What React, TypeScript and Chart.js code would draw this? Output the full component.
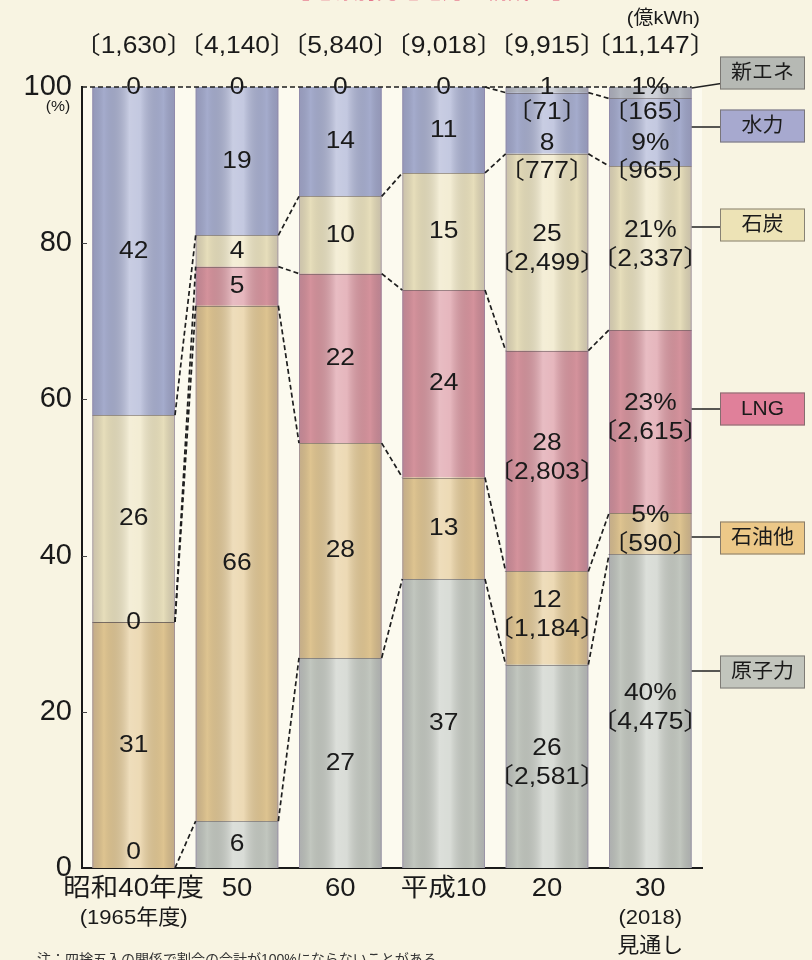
import React, { useEffect, useRef } from 'react';
import { Chart, registerables } from 'chart.js';

Chart.register(...registerables);

// Fiscal years on the category axis
const categories = ['昭和40年度', '50', '60', '平成10', '20', '30'];
const categorySub = ['(1965年度)', '', '', '', '', '(2018)'];
const categoryNote = ['', '', '', '', '', '見通し'];

// Total generation per year (億kWh)
const totalKwh = [1630, 4140, 5840, 9018, 9915, 11147];

// Share of generation by source (%), bottom of the stack first
const nuclear = [0, 6, 26.9, 37, 26.03, 40.15];
const oil = [31.49, 66, 27.5, 13, 11.94, 5.29];
const lng = [0, 5, 21.7, 24, 28.27, 23.46];
const coal = [26.49, 4, 9.9, 15, 25.2, 20.97];
const hydro = [42.02, 19, 14, 11, 7.84, 8.66];
const newEnergy = [0, 0, 0, 0, 0.72, 1.48];

// Generation by source (億kWh), given for the last two years only
const nuclearKwh = [null, null, null, null, 2581, 4475];
const oilKwh = [null, null, null, null, 1184, 590];
const lngKwh = [null, null, null, null, 2803, 2615];
const coalKwh = [null, null, null, null, 2499, 2337];
const hydroKwh = [null, null, null, null, 777, 965];
const newEnergyKwh = [null, null, null, null, 71, 165];

const seriesNames = ['原子力', '石油他', 'LNG', '石炭', '水力', '新エネ'];

const series = [nuclear, oil, lng, coal, hydro, newEnergy];
const seriesKwh = [nuclearKwh, oilKwh, lngKwh, coalKwh, hydroKwh, newEnergyKwh];

const barColors = ['#c8cdc5', '#e5ca95', '#db97a1', '#eee5c1', '#aab1d3', '#b9bdc6'];
const legendColors = ['#c2c5bd', '#ecc888', '#e0809a', '#ede3b6', '#a7a9cf', '#b6b9b4'];

// Legend tag placement: [box centre y, leader y at the bar edge]
const legendPlacement: Record<string, [number, number]> = {
  '新エネ': [73, 88],
  '水力': [126, 127],
  '石炭': [225, 227],
  'LNG': [409, 409],
  '石油他': [538, 537],
  '原子力': [672, 671],
};

const FONT = '"Liberation Sans", "Noto Sans CJK JP", sans-serif';
const INK = '#1a1a1a';

function drawText(
  ctx: CanvasRenderingContext2D,
  s: string,
  x: number,
  y: number,
  size: number,
  align: CanvasTextAlign = 'center',
  stretch = 1.1,
  color = INK,
) {
  ctx.save();
  ctx.font = `${size}px ${FONT}`;
  ctx.fillStyle = color;
  ctx.textAlign = align;
  ctx.textBaseline = 'middle';
  ctx.translate(x, y);
  ctx.scale(stretch, 1);
  ctx.fillText(s, 0, 0);
  ctx.restore();
}

const fmt = (n: number) => n.toLocaleString('en-US');

function barGeometry(chart: any) {
  const meta = chart.getDatasetMeta(0);
  return categories.map((_, i) => {
    const { x, width } = meta.data[i].getProps(['x', 'width'], true);
    return { cx: x, left: x - width / 2, right: x + width / 2 };
  });
}

function cumulative() {
  return categories.map((_, i) => {
    let s = 0;
    return series.map((arr) => (s += arr[i]));
  });
}

const backgroundPlugin = {
  id: 'pageBackground',
  beforeDraw(chart: any) {
    const { ctx, chartArea } = chart;
    ctx.save();
    ctx.fillStyle = '#f8f4e2';
    ctx.fillRect(0, 0, chart.width, chart.height);
    ctx.fillStyle = '#fcfaef';
    ctx.fillRect(chartArea.left, chartArea.top, chartArea.right - chartArea.left, chartArea.bottom - chartArea.top);
    ctx.restore();
  },
};

const stackPlugin = {
  id: 'stackDecor',
  afterDatasetsDraw(chart: any) {
    const { ctx, chartArea } = chart;
    const ys = chart.scales.y;
    const geo = barGeometry(chart);
    const cum = cumulative();
    const py = (v: number) => ys.getPixelForValue(Math.min(v, 100));
    const base = py(0);

    ctx.save();
    // cylinder shading over each column
    geo.forEach((g, i) => {
      const top = py(cum[i][5]);
      const grad = ctx.createLinearGradient(g.left, 0, g.right, 0);
      grad.addColorStop(0, 'rgba(80,70,100,0.22)');
      grad.addColorStop(0.14, 'rgba(0,0,0,0.03)');
      grad.addColorStop(0.45, 'rgba(255,255,255,0.36)');
      grad.addColorStop(0.58, 'rgba(255,255,255,0.30)');
      grad.addColorStop(0.86, 'rgba(0,0,0,0.03)');
      grad.addColorStop(1, 'rgba(80,70,100,0.24)');
      ctx.fillStyle = grad;
      ctx.fillRect(g.left, top, g.right - g.left, base - top);

      // segment separators
      ctx.strokeStyle = 'rgba(95,85,85,0.55)';
      ctx.lineWidth = 1;
      for (let d = 0; d < 5; d++) {
        const c = cum[i][d];
        if (c <= 0 || c >= 99.99) continue;
        const y = Math.round(py(c)) + 0.5;
        ctx.beginPath();
        ctx.moveTo(g.left, y);
        ctx.lineTo(g.right, y);
        ctx.stroke();
      }
      // column edges
      ctx.strokeStyle = 'rgba(140,128,160,0.55)';
      ctx.beginPath();
      ctx.moveTo(g.left + 0.5, top);
      ctx.lineTo(g.left + 0.5, base);
      ctx.moveTo(g.right - 0.5, top);
      ctx.lineTo(g.right - 0.5, base);
      ctx.stroke();
    });

    // dashed connectors between matching boundaries of neighbouring columns
    ctx.strokeStyle = '#1e1e1e';
    ctx.lineWidth = 1.7;
    ctx.setLineDash([5, 3]);
    for (let i = 0; i < geo.length - 1; i++) {
      for (let d = 0; d < 5; d++) {
        const a = cum[i][d];
        const b = cum[i + 1][d];
        if (a >= 99.99 && b >= 99.99) continue;
        ctx.beginPath();
        ctx.moveTo(geo[i].right, py(a));
        ctx.lineTo(geo[i + 1].left, py(b));
        ctx.stroke();
      }
    }
    // 100% line across the tops
    ctx.beginPath();
    ctx.moveTo(chartArea.left, py(100));
    ctx.lineTo(geo[geo.length - 1].right, py(100));
    ctx.stroke();
    ctx.setLineDash([]);
    ctx.restore();

    // value labels
    const last = categories.length - 1;
    geo.forEach((g, i) => {
      const pctSuffix = i === last ? '%' : '';
      series.forEach((arr, d) => {
        const v = arr[i];
        const pct = `${Math.round(v)}${pctSuffix}`;
        const k = seriesKwh[d][i];
        const kText = k != null ? `〔${fmt(k)}〕` : '';
        const hasNewKwh = newEnergyKwh[i] != null;
        if (d === 5) {
          drawText(ctx, pct, g.cx, py(100), 24);
          if (kText) drawText(ctx, kText, g.cx, py(100) + 25, 24);
          return;
        }
        if (d === 4 && hasNewKwh) {
          drawText(ctx, pct, g.cx, py(100) + 56, 24);
          drawText(ctx, kText, g.cx, py(100) + 84, 24);
          return;
        }
        if (v === 0) {
          const y = d === 0 ? base - 16 : py(cum[i][d]);
          drawText(ctx, pct, g.cx, y, 24);
          return;
        }
        const mid = py(cum[i][d] - v / 2);
        if (kText) {
          drawText(ctx, pct, g.cx, mid - 18, 24);
          drawText(ctx, kText, g.cx, mid + 11, 24);
        } else {
          drawText(ctx, pct, g.cx, mid, 24);
        }
      });
    });
  },
  afterDraw(chart: any) {
    const { ctx, chartArea } = chart;
    const ys = chart.scales.y;
    const geo = barGeometry(chart);
    const cum = cumulative();
    const last = geo[geo.length - 1];

    // small inner tick marks on the value axis
    ctx.save();
    ctx.strokeStyle = '#444';
    ctx.lineWidth = 1;
    [20, 40, 60, 80].forEach((v) => {
      const y = Math.round(ys.getPixelForValue(v)) + 0.5;
      ctx.beginPath();
      ctx.moveTo(chartArea.left, y);
      ctx.lineTo(chartArea.left + 5, y);
      ctx.stroke();
    });
    ctx.restore();

    drawText(ctx, '(%)', 58, 107, 15, 'center', 1.05);

    // category labels
    geo.forEach((g, i) => {
      drawText(ctx, categories[i], g.cx, 889, 25);
      if (categorySub[i]) drawText(ctx, categorySub[i], g.cx, 918, 21, 'center', 1.05);
      if (categoryNote[i]) drawText(ctx, categoryNote[i], g.cx, 946, 21, 'center', 1.05);
    });

    // totals above the columns
    geo.forEach((g, i) => drawText(ctx, `〔${fmt(totalKwh[i])}〕`, g.cx, 46, 24));
    drawText(ctx, '(億kWh)', 700, 19, 19, 'right', 1.05);

    // legend tags with leader lines to the last column
    ctx.save();
    ctx.strokeStyle = '#222';
    ctx.lineWidth = 1.5;
    seriesNames.forEach((name, d) => {
      const [boxY, leadY] = legendPlacement[name];
      const bx = 720;
      const bw = 85;
      const bh = 33;
      ctx.beginPath();
      if (d === 5) {
        ctx.moveTo(last.right, ys.getPixelForValue(cum[geo.length - 1][5]) + 1);
        ctx.lineTo(bx + 1, boxY + bh / 2 - 6);
      } else {
        ctx.moveTo(last.right, leadY);
        ctx.lineTo(bx, leadY);
      }
      ctx.stroke();
      ctx.fillStyle = legendColors[d];
      ctx.fillRect(bx, boxY - bh / 2, bw, bh);
      ctx.save();
      ctx.strokeStyle = 'rgba(110,105,100,0.8)';
      ctx.lineWidth = 1;
      ctx.strokeRect(bx + 0.5, boxY - bh / 2 + 0.5, bw - 1, bh - 1);
      ctx.restore();
      drawText(ctx, name, bx + bw / 2, boxY, 20, 'center', 1.05);
    });
    ctx.restore();

    // heading (mostly above the visible page) and footnote
    ctx.save();
    ctx.font = `22px ${FONT}`;
    ctx.fillStyle = '#df4f72';
    ctx.textAlign = 'left';
    ctx.textBaseline = 'alphabetic';
    ctx.fillText('【電源別発電電力量構成比】', 288, -2);
    ctx.font = `14px ${FONT}`;
    ctx.fillStyle = '#333';
    ctx.textBaseline = 'top';
    ctx.fillText('注：四捨五入の関係で割合の合計が100%にならないことがある。', 37, 953);
    ctx.restore();
  },
};

export default function App() {
  const canvasRef = useRef<HTMLCanvasElement | null>(null);

  useEffect(() => {
    if (!canvasRef.current) return;
    const chart = new Chart(canvasRef.current, {
      type: 'bar',
      data: {
        labels: categories,
        datasets: series.map((arr, k) => ({
          label: seriesNames[k],
          data: arr,
          backgroundColor: barColors[k],
          borderWidth: 0,
          barPercentage: 0.8,
          categoryPercentage: 1,
        })),
      },
      options: {
        responsive: false,
        animation: false,
        layout: { padding: { left: 0, right: 110, top: 87, bottom: 0 } },
        plugins: {
          legend: { display: false },
          tooltip: { enabled: false },
        },
        scales: {
          x: {
            stacked: true,
            grid: { display: false, drawTicks: false },
            ticks: { display: false },
            border: { display: true, color: INK, width: 2 },
            afterFit: (s: any) => {
              s.height = 92;
            },
          },
          y: {
            stacked: true,
            min: 0,
            max: 100,
            ticks: {
              stepSize: 20,
              padding: 10,
              color: INK,
              font: { family: FONT, size: 29 },
            },
            grid: { display: false, drawTicks: false },
            border: { display: true, color: INK, width: 2 },
            afterFit: (s: any) => {
              s.width = 82;
            },
          },
        },
      },
      plugins: [backgroundPlugin, stackPlugin],
    });
    return () => chart.destroy();
  }, []);

  return (
    <div style={{ position: 'absolute', left: 0, top: 0, width: 812, height: 960, background: '#f8f4e2' }}>
      <canvas ref={canvasRef} width={812} height={960} style={{ display: 'block' }} />
    </div>
  );
}
